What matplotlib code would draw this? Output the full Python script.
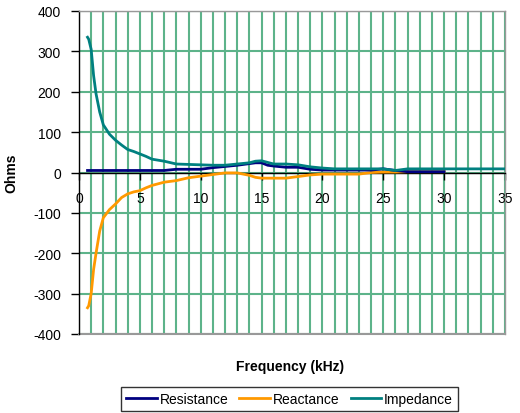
import matplotlib
matplotlib.use("Agg")
import matplotlib.pyplot as plt
from matplotlib.ticker import MultipleLocator

plt.rcParams['font.family'] = ['Liberation Sans', 'DejaVu Sans']
plt.rcParams['axes.unicode_minus'] = False

# Data
freq = [0.7, 0.8, 1.0, 1.2, 1.4, 1.7, 2.0, 2.5, 3.0, 3.5, 4.0, 4.5, 5.0, 5.5, 6.0,
        7.0, 8.0, 9.0, 10, 11, 12, 13, 14, 14.5, 15, 15.5, 16, 17, 18, 19, 20,
        21, 22, 23, 24, 25, 26, 27, 28, 29, 30, 31, 32, 33, 34, 35]
impedance = [335, 330, 305, 240, 195, 150, 118, 95, 80, 68, 57, 52, 46, 40, 33,
             28, 21, 20, 19, 18, 18, 21, 24, 28, 29, 25, 21, 21, 19, 14, 11,
             9, 9, 9, 9, 9, 5, 9, 9, 9, 9, 9, 9, 9, 9, 9]
freq_rx = [0.7, 0.8, 1.0, 1.2, 1.4, 1.7, 2.0, 2.5, 3.0, 3.5, 4.0, 4.5, 5.0, 5.5, 6.0,
           7.0, 8.0, 9.0, 10, 11, 12, 13, 14, 14.5, 15, 15.5, 16, 17, 18, 19, 20,
           21, 22, 23, 24, 25, 26, 27, 28, 29, 30]
resistance = [5, 5, 5, 5, 5, 5, 5, 5, 5, 5, 5, 5, 5, 5, 5,
              5, 8, 8, 8, 12, 15, 18, 22, 24, 24, 18, 16, 13, 13, 8, 6,
              6, 6, 6, 6, 9, 5, 2, 2, 2, 2]
reactance = [-335, -330, -300, -240, -200, -145, -112, -92, -78, -62, -53, -48, -45, -38, -32,
             -24, -20, -13, -9, -5, -1, -1, -7, -12, -14, -14, -14, -14, -10, -6, -4,
             -4, -4, -4, 0, 1, 1, 2, 2, 2, 2]

series_names = ["Resistance", "Reactance", "Impedance"]
xlim = (0, 35)
ylim = (-400, 400)

fig = plt.figure(figsize=(5.2, 4.14), dpi=100)
ax = fig.add_axes([79/520, 1 - 335/414, (505-79)/520, (335-12)/414])

ax.plot(freq_rx, resistance, color='#000080', lw=2.0, label=series_names[0], zorder=4)
ax.plot(freq_rx, reactance, color='#ff9900', lw=2.0, label=series_names[1], zorder=3)
ax.plot(freq, impedance, color='#008080', lw=2.0, label=series_names[2], zorder=5)

ax.set_xlim(*xlim)
ax.set_ylim(*ylim)

ax.xaxis.set_major_locator(MultipleLocator(5))
ax.xaxis.set_minor_locator(MultipleLocator(1))
ax.yaxis.set_major_locator(MultipleLocator(100))

grid_color = '#5db38a'
ax.grid(True, which='minor', axis='x', color=grid_color, lw=1.5, zorder=0)
ax.grid(True, which='major', axis='x', color=grid_color, lw=1.5, zorder=0)
ax.grid(True, which='major', axis='y', color=grid_color, lw=1.5, zorder=0)
ax.set_axisbelow(True)

ax.spines['bottom'].set_position(('data', 0))
ax.spines['bottom'].set_color('black')
ax.spines['left'].set_color('black')
ax.spines['top'].set_color('#999999')
ax.spines['right'].set_color('#999999')
for s in ax.spines.values():
    s.set_linewidth(1.0)
ax.axhline(ylim[0], color='#999999', lw=1.5, zorder=1, clip_on=False)

ax.tick_params(axis='x', which='major', direction='out', length=5, width=1,
               pad=8, labelsize=10, colors='black')
ax.tick_params(axis='x', which='minor', length=0)
ax.tick_params(axis='y', which='major', direction='out', length=6, width=1,
               pad=7, labelsize=10)

ax.set_xlabel('Frequency (kHz)', fontsize=10, fontweight='bold')
ax.xaxis.set_label_coords(0.495, -0.078)
ax.set_ylabel('Ohms', fontsize=10, fontweight='bold')
ax.yaxis.set_label_coords(-0.143, 0.5)

leg = fig.legend(loc='upper center', bbox_to_anchor=(289.5/520, 1 - 388/414),
                 ncol=3, frameon=True, fancybox=False, edgecolor='black',
                 fontsize=10, handlelength=2.2, handletextpad=0.2,
                 columnspacing=0.8, borderaxespad=0, borderpad=0.35)
leg.get_frame().set_linewidth(1.0)

fig.savefig('out.png', dpi=100)
